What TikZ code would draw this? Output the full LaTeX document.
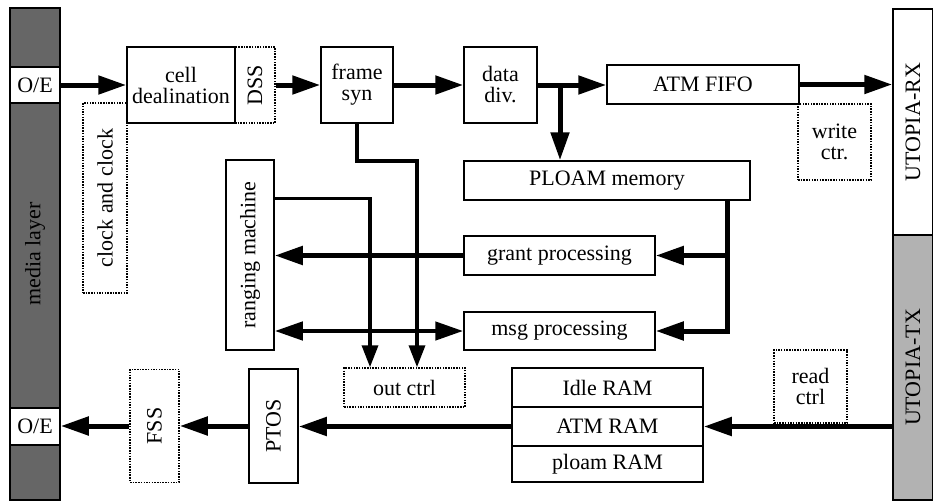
\documentclass[tikz,border=0pt]{standalone}
\usepackage{fontspec}
\setmainfont{Liberation Serif}
\usepackage{graphicx}
\usetikzlibrary{arrows.meta,calc}
\tikzset{
  blk/.style={draw, line width=1.5pt, inner sep=0pt, align=center, font=\fontsize{22}{21}\selectfont},
  dblk/.style={blk, dash pattern=on 1.5pt off 1.2pt},
  arr/.style={line width=5pt, -{Triangle[length=28pt,width=18pt]}},
  darr/.style={line width=4.5pt, {Triangle[length=28pt,width=18pt]}-{Triangle[length=28pt,width=18pt]}},
  tarr/.style={line width=3.5pt, -{Triangle[length=22pt,width=16pt]}},
  tline/.style={line width=3.5pt}
}
\begin{document}
\begin{tikzpicture}[x=1pt,y=-1pt]
\useasboundingbox (0,0) rectangle (933,503);
% side bars
\node[blk, fill=black!60, minimum width=50, minimum height=492] (media) at (35,254) {\rotatebox{90}{media layer}};
\node[blk, fill=white, minimum width=50, minimum height=36] (oe1) at (35,85) {O/E};
\node[blk, fill=white, minimum width=50, minimum height=37] (oe2) at (35,426.5) {O/E};
\node[blk, fill=white, minimum width=40, minimum height=226] (rx) at (913,122) {\rotatebox{90}{UTOPIA-RX}};
\node[blk, fill=black!30, minimum width=40, minimum height=265] (tx) at (913,367.5) {\rotatebox{90}{UTOPIA-TX}};
% top row
\node[blk, minimum width=108, minimum height=76] (cell) at (181,85) {cell\\dealination};
\node[dblk, minimum width=40, minimum height=76] (dss) at (255,85) {\rotatebox{90}{DSS}};
\node[dblk, minimum width=44, minimum height=190] (clk) at (105,198) {\rotatebox{90}{clock and clock}};
\node[blk, minimum width=72, minimum height=76] (frame) at (357,85) {frame\\syn};
\node[blk, minimum width=73, minimum height=76] (data) at (500.5,85) {data\\div.};
\node[blk, minimum width=192, minimum height=39] (fifo) at (703,84.5) {ATM FIFO};
\node[dblk, minimum width=73, minimum height=76] (wctr) at (834.5,142) {write\\ctr.};
\node[blk, minimum width=286, minimum height=39] (ploam) at (607,180.5) {PLOAM memory};
% middle
\node[blk, minimum width=48, minimum height=190] (rang) at (250,255) {\rotatebox{90}{ranging machine}};
\node[blk, minimum width=191, minimum height=39] (grant) at (559.5,255.5) {grant processing};
\node[blk, minimum width=191, minimum height=38] (msg) at (559.5,331) {msg processing};
% bottom
\node[dblk, minimum width=121, minimum height=39] (out) at (404.5,387.5) {out ctrl};
\node[blk, minimum width=191, minimum height=39] (idle) at (607.5,387.5) {Idle RAM};
\node[blk, minimum width=191, minimum height=39] (atmram) at (607.5,426.5) {ATM RAM};
\node[blk, minimum width=191, minimum height=36] (ploamram) at (607.5,464) {ploam RAM};
\node[dblk, minimum width=73, minimum height=73] (rctr) at (810.5,386.5) {read\\ctrl};
\node[blk, minimum width=49, minimum height=114] (ptos) at (273.5,426) {\rotatebox{90}{PTOS}};
\node[dblk, minimum width=49, minimum height=113] (fss) at (154.5,426) {\rotatebox{90}{FSS}};
% connectors top
\draw[arr] (oe1.east) -- (cell.west);
\draw[arr] (dss.east) -- (frame.west);
\draw[arr] (frame.east) -- (data.west);
\draw[arr] (data.east) -- (data.east -| fifo.west);
\coordinate (j) at (560,85);
\draw[arr] (j) -- (j |- ploam.north);
\draw[arr] (fifo.east) -- (fifo.east -| rx.west);
% lines to out ctrl
\draw[tarr] (frame.south) -- ++(0,37) -| ($(out.north)+(12.5,0)$);
\draw[tarr] ($(rang.north east)+(0,39)$) -| ($(out.north)+(-34.5,0)$);
% grant / msg
\draw[arr] (grant.west) -- (grant.west -| rang.east);
\draw[darr] (rang.east |- msg.west) -- (msg.west);
\draw[arr] ($(ploam.south)+(120,0)$) |- (msg.east);
\draw[arr] ($(ploam.south)+(120,0)$) |- (grant.east);
% bottom path
\draw[arr] (tx.west |- atmram.east) -- (atmram.east);
\draw[arr] (atmram.west) -- (atmram.west -| ptos.east);
\draw[arr] (ptos.west) -- (fss.east);
\draw[arr] (fss.west) -- (fss.west -| oe2.east);
\end{tikzpicture}
\end{document}
